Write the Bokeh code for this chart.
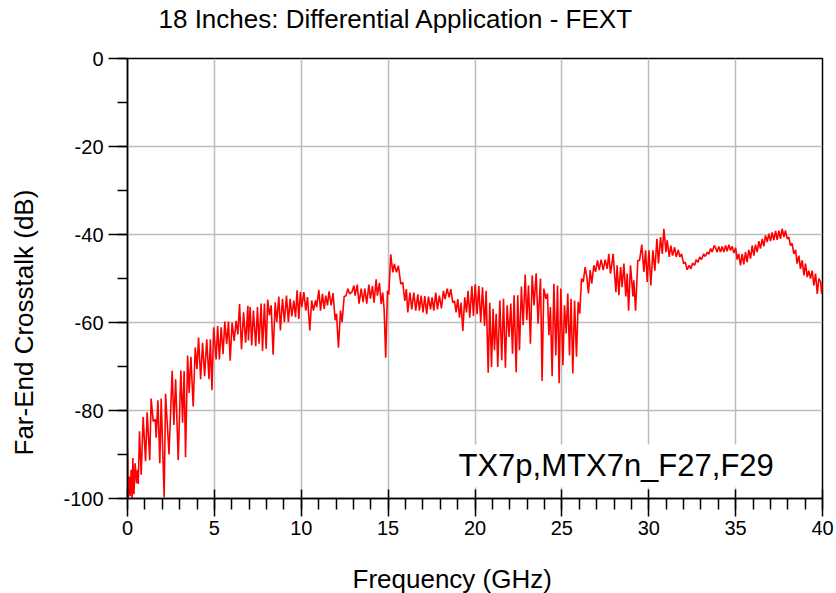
from bokeh.plotting import figure
from bokeh.models import SingleIntervalTicker, Range1d, Label, CustomJSTickFormatter, Title
from bokeh.embed import file_html
from bokeh.resources import INLINE

title_text = "18 Inches: Differential Application - FEXT"
x_label = "Frequency (GHz)"
y_label = "Far-End Crosstalk (dB)"
trace_name = "TX7p,MTX7n_F27,F29"

freq_ghz = [
    0.0, 0.04, 0.12, 0.16, 0.21, 0.27, 0.31, 0.37, 0.44, 0.52, 0.58, 0.62, 0.69, 0.79, 0.9, 1.04, 1.13, 1.28, 1.36,
    1.48, 1.6, 1.65, 1.75, 1.86, 1.94, 2.11, 2.19, 2.39, 2.57, 2.67, 2.77, 2.92, 3.07, 3.17, 3.26, 3.34, 3.46, 3.55,
    3.65, 3.78, 3.9, 4.0, 4.09, 4.21, 4.32, 4.44, 4.56, 4.69, 4.77, 4.86, 4.96, 5.1, 5.19, 5.29, 5.39, 5.5, 5.6,
    5.71, 5.81, 5.91, 6.02, 6.14, 6.25, 6.35, 6.45, 6.56, 6.68, 6.8, 6.93,
    6.96, 7.06, 7.15, 7.25, 7.38, 7.48, 7.57, 7.69, 7.77, 7.88, 7.98, 8.07, 8.17, 8.27, 8.38, 8.5, 8.59, 8.71, 8.8,
    8.92, 9.03, 9.15, 9.26, 9.36, 9.46, 9.57, 9.67, 9.76, 9.86, 9.95, 10.03, 10.15, 10.26, 10.36, 10.49, 10.6, 10.7,
    10.82, 10.89, 11.01, 11.11, 11.22, 11.32, 11.41, 11.51, 11.6, 11.72, 11.83, 11.95, 12.03, 12.14, 12.26, 12.35,
    12.47, 12.58, 12.68, 12.79, 12.91, 13.03, 13.1, 13.22, 13.33, 13.45, 13.56, 13.66, 13.77, 13.89, 13.98,
    14.1, 14.19, 14.31, 14.38, 14.5, 14.6, 14.69, 14.77, 14.86, 14.96, 15.04, 15.15, 15.27, 15.36, 15.48, 15.59,
    15.73, 15.84, 15.96, 16.05, 16.13, 16.26, 16.36, 16.48, 16.59, 16.71, 16.8, 16.9, 17.01, 17.11, 17.22, 17.32,
    17.44, 17.53, 17.63, 17.74, 17.84, 17.95, 18.07, 18.18, 18.28, 18.4, 18.51, 18.61, 18.72, 18.82, 18.91, 19.01,
    19.11, 19.2, 19.3, 19.41, 19.51, 19.6, 19.7, 19.82, 19.91, 20.01, 20.12, 20.22, 20.33, 20.43, 20.55, 20.64,
    20.76, 20.85,
    20.95, 21.04, 21.12, 21.22, 21.31, 21.43, 21.54, 21.64, 21.75, 21.85, 21.96, 22.06, 22.16, 22.25, 22.37, 22.46,
    22.56, 22.67, 22.77, 22.89, 22.98, 23.08, 23.19, 23.29, 23.4, 23.52, 23.63, 23.77, 23.86, 23.96, 24.08, 24.17,
    24.25, 24.34, 24.44, 24.54, 24.65, 24.75, 24.84, 24.94, 25.06, 25.15, 25.25, 25.34, 25.44, 25.53, 25.63, 25.73,
    25.84, 25.94, 26.03, 26.13, 26.23, 26.34, 26.44, 26.53, 26.63, 26.72, 26.84, 26.94, 27.05, 27.15, 27.26, 27.38,
    27.49, 27.61, 27.7,
    27.8, 27.88, 27.95, 28.03, 28.11, 28.18, 28.28, 28.38, 28.47, 28.57, 28.68, 28.76, 28.84, 28.95, 29.09, 29.14,
    29.24, 29.37, 29.47, 29.6, 29.72, 29.82, 29.91, 30.01, 30.12, 30.24, 30.35, 30.47, 30.56, 30.68, 30.78, 30.87,
    30.99, 31.06, 31.18, 31.27, 31.37, 31.49, 31.58, 31.7, 31.79, 31.89, 32.0, 32.1, 32.21, 32.33, 32.43, 32.52,
    32.64, 32.73, 32.83, 32.94, 33.04, 33.16, 33.25, 33.37, 33.46, 33.56, 33.65, 33.77,
    33.84, 33.94, 34.03, 34.13, 34.22, 34.32, 34.42, 34.51, 34.61, 34.7, 34.8, 34.9, 35.0, 35.09, 35.18, 35.28,
    35.38, 35.47, 35.57, 35.66, 35.76, 35.86, 35.95, 36.05, 36.14, 36.24, 36.34, 36.43, 36.53, 36.62, 36.72, 36.82,
    36.91, 37.01, 37.1, 37.2, 37.3, 37.39, 37.49, 37.58, 37.68, 37.78, 37.87, 37.97, 38.06, 38.16, 38.25, 38.35,
    38.45, 38.54, 38.64, 38.73, 38.83, 38.93, 39.02, 39.12, 39.21, 39.31, 39.41, 39.5, 39.6, 39.7, 39.79, 39.89,
    39.95, 40.0,
]

crosstalk_db = [
    -88.9, -100, -95, -99.5, -93.5, -100, -90.8, -99, -92, -96.5, -93.5, -96.7, -84.7, -94.6, -81.5, -91.5, -80.4, -91.3, -77.3,
    -82.5, -82.0, -86.2, -77.7, -92, -77.3, -99.7, -76.2, -90, -71, -83.3, -72.9, -91.3, -70.9, -82.8, -71, -90.6, -67.5, -76,
    -67.8, -79.1, -65.7, -70.6, -63.4, -72.9, -64.6, -72.2, -63.8, -72.9, -63.8, -75.4, -61.1, -68.4, -60.8, -68.4, -61.1, -67.2, -59.8,
    -64.9, -59.8, -68.7, -60, -64.2, -59.6, -62.7, -55.8, -66.1, -57.7, -64.6, -56.2,
    -64.1, -56.5, -65.2, -57.3, -65.4, -56.5, -64.8, -55.7, -66.5, -55.7, -66, -54.8, -58.4, -56.1, -67.3, -55.4, -59.9, -54.1, -61.8,
    -54.6, -59.9, -53.9, -59.9, -54.6, -58.6, -55, -58.8, -52.7, -59.2, -53.1, -56.5, -53.1, -57.3, -54.2, -61.8, -55, -57.3,
    -55, -56.5, -52.6, -57.3, -53.5, -56.9, -53.9, -56.1, -52.9, -56.1, -53.3, -59.5, -58, -65.7, -57.3, -59.9,
    -54.1, -53.9, -52.3, -53.5, -53.1, -51.6, -53.9, -51.4, -55.7, -52.3, -55.4, -52.3, -55.7, -51.4, -54.6,
    -51.7, -55.5, -50.2, -53.9, -51, -55.8, -53.2, -57, -68, -52.8, -53.6, -44.5, -48.6, -46.7, -48.6, -47.1,
    -51.3, -50.9, -55.1, -52.4, -57.7, -53.2, -57, -53.2, -57.3, -53.6, -57.3, -53.9, -57.7, -54, -58.1, -54.1,
    -57, -54.3, -57.3, -53.2, -57, -53.9, -56.8, -52.8, -54.7, -52.3, -54.3, -52.4, -55.5, -55.1, -57.7, -54.7,
    -58.9, -55.5, -61.9, -54.3, -57.7, -52.8, -58.9, -51.7, -58.5, -51.3, -58.1, -51.7, -60, -52, -60.8, -52.8,
    -71.4, -55.5,
    -70.1, -56.9, -66.3, -58, -70.1, -55, -68.6, -54.6, -70.3, -56.1, -63.3, -55.7, -67.1, -53.8, -71.3, -53.8,
    -66.3, -51.8, -60.6, -49.1, -59.5, -51.6, -64.8, -49.3, -56.1, -48.8, -60.3, -50.0, -73.3, -52.3, -54.6, -53.4,
    -62.9, -56.5, -72.2, -51.2, -67.5, -51.6, -73.8, -52.3, -69.7, -56.1, -62.5, -53.4, -67.5, -54.6, -71.6, -55,
    -67.8, -55.3, -58, -50, -50.8, -47.4, -49.7, -53.4, -48.1, -51.2, -47, -48.5, -45.9, -48.1, -45.7, -48.1,
    -45.7, -47.8, -44.4,
    -48.9, -46.6, -44.4, -48.9, -53.1, -47, -53.8, -47.4, -52, -46.6, -54.1, -48.9, -57.3, -47, -54.1, -50.4,
    -57.3, -45.9, -45.9, -42.3, -48.5, -43.6, -50.8, -43.6, -51.6, -43.6, -48.2, -41, -46.6, -40.6, -44.4, -38.7,
    -44, -41.3, -45.1, -42.5, -44.8, -42.9, -45.1, -43.5, -45.1, -44.4, -46.6, -46.3, -48, -47, -47.8, -46.5,
    -47, -45.7, -46.3, -45.1, -45.7, -44.4, -45, -44, -44.5, -43.2, -44, -42.5,
    -43, -44, -42.7, -44, -42.7, -44, -42.5, -43.8, -42.3, -43.6, -42.7, -44.2, -43, -45.7, -44.4, -47,
    -44.4, -46.8, -44, -46.3, -43.5, -45.5, -42.5, -44.8, -42.3, -44, -41.5, -43.2, -41, -42.7, -40.2, -41.7,
    -39.8, -41.5, -39.5, -41.3, -39.2, -41.2, -39.1, -41, -38.7, -40.6, -39.1, -41, -40.6, -42.5, -42, -44.4,
    -43.5, -46.6, -44.8, -47.8, -45.9, -49.3, -46.6, -49.7, -48.2, -50, -48.2, -51.6, -48.9, -53.5, -50, -50.8,
    -53.5, -51.2,
]

FONT = "Liberation Sans"

p = figure(width=836, height=593, output_backend="svg", toolbar_location=None,
           x_range=Range1d(0, 40), y_range=Range1d(-100, 0),
           min_border_left=127, min_border_right=14, min_border_top=58, min_border_bottom=95,
           background_fill_color="white", border_fill_color="white")

p.line(freq_ghz, crosstalk_db, line_color="#ff0000", line_width=1.6)

# axes
p.xaxis.ticker = SingleIntervalTicker(interval=5, num_minor_ticks=5)
p.yaxis.ticker = SingleIntervalTicker(interval=20, num_minor_ticks=2)
p.xaxis.formatter = CustomJSTickFormatter(code="return tick.toFixed(0);")
p.yaxis.formatter = CustomJSTickFormatter(code="return tick.toFixed(0);")
for ax in (p.xaxis, p.yaxis):
    ax.axis_line_color = "black"
    ax.axis_line_width = 1.5
    ax.major_tick_line_color = "black"
    ax.minor_tick_line_color = "black"
    ax.major_tick_line_width = 1.5
    ax.minor_tick_line_width = 1.5
    ax.major_label_text_font = FONT
    ax.major_label_text_font_size = "20px"
    ax.major_label_text_color = "black"

p.xaxis.major_tick_in = 9
p.xaxis.major_tick_out = 18
p.xaxis.minor_tick_in = 0
p.xaxis.minor_tick_out = 11
p.yaxis.major_tick_in = 0
p.yaxis.major_tick_out = 19
p.yaxis.minor_tick_in = 0
p.yaxis.minor_tick_out = 10
p.xaxis.major_label_standoff = 4
p.yaxis.major_label_standoff = 5


def spacer(gap):
    return Title(text=" ", text_font_size="1px", standoff=gap)


def side_title(text, **kw):
    return Title(text=text, align="left", standoff=0, text_font=FONT, text_font_size="26px",
                 text_font_style="normal", text_color="black", **kw)


# chart title (spacer keeps it away from the frame, as in the reference)
p.add_layout(spacer(22), "above")
p.add_layout(side_title(title_text, offset=31), "above")
# axis titles
p.add_layout(spacer(21), "below")
p.add_layout(side_title(x_label, offset=225), "below")
p.add_layout(spacer(19), "left")
p.add_layout(side_title(y_label, offset=43), "left")

p.xgrid.grid_line_color = "#bdbdbd"
p.ygrid.grid_line_color = "#bdbdbd"
p.xgrid.grid_line_width = 1.5
p.ygrid.grid_line_width = 1.5

p.outline_line_color = "black"
p.outline_line_width = 1.5
p.outline_line_alpha = 1.0

lbl = Label(x=18.82, y=-92.6, text=trace_name, text_font=FONT, text_font_size="31px",
            text_baseline="middle", text_align="left", text_color="black",
            background_fill_color="white", background_fill_alpha=1.0, padding=4)
p.add_layout(lbl)

open("out.html", "w").write(file_html(p, INLINE))
